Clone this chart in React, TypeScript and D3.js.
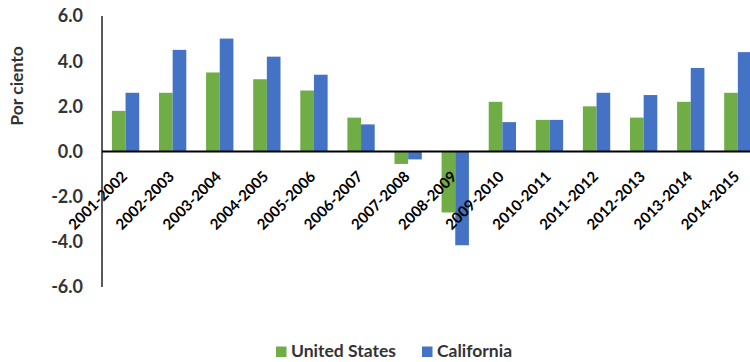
import React from "react";
import * as d3 from "d3";

const categories = ["2001-2002","2002-2003","2003-2004","2004-2005","2005-2006","2006-2007","2007-2008","2008-2009","2009-2010","2010-2011","2011-2012","2012-2013","2013-2014","2014-2015"];
const usValues = [1.8, 2.6, 3.5, 3.2, 2.7, 1.5, -0.55, -2.7, 2.2, 1.4, 2.0, 1.5, 2.2, 2.6];
const caValues = [2.6, 4.5, 5.0, 4.2, 3.4, 1.2, -0.35, -4.15, 1.3, 1.4, 2.6, 2.5, 3.7, 4.4];
const yTicks = [6, 4, 2, 0, -2, -4, -6];
const seriesNames = ["United States", "California"];
const colors = ["#70AD47", "#4472C4"];

const W = 750, H = 362;
const FONT = "Lato, 'Open Sans', sans-serif";

export default function App() {
  const x0 = d3.scaleBand<string>().domain(categories).range([102, 102 + 14 * 47.1]).paddingInner(0.42).paddingOuter(0.21);
  const x1 = d3.scaleBand<string>().domain(seriesNames).range([0, x0.bandwidth()]);
  const y = d3.scaleLinear().domain([-6, 6]).range([287, 16]);
  const series = [usValues, caValues];
  return (
    <svg width={W} height={H} style={{ position: "absolute", left: 0, top: 0, background: "#fff" }}>
      {series.map((vals, si) =>
        vals.map((v, i) => (
          <rect key={`${si}-${i}`} x={(x0(categories[i]) ?? 0) + (x1(seriesNames[si]) ?? 0)} y={y(Math.max(0, v))}
            width={x1.bandwidth()} height={Math.abs(y(v) - y(0))} fill={colors[si]} />
        ))
      )}
      <line x1={102} x2={102} y1={16} y2={287} stroke="#000" strokeWidth={1.3} />
      <line x1={102} x2={W} y1={y(0)} y2={y(0)} stroke="#000" strokeWidth={2} />
      {yTicks.map(t => (
        <text key={t} x={83} y={y(t)} dy="0.36em" textAnchor="end" fontFamily={FONT} fontWeight="bold" fontSize={18} fill="#333">{t.toFixed(1)}</text>
      ))}
      <text transform={`translate(23,${86}) rotate(-90)`} textAnchor="middle" fontFamily={FONT} fontWeight="bold" fontSize={17.5} fill="#333">Por ciento</text>
      {categories.map(c => {
        const cx = (x0(c) ?? 0) + x0.bandwidth() / 2 + 2.5;
        return (
          <text key={c} transform={`translate(${cx},${y(0) + 26}) rotate(-45)`} textAnchor="end" fontFamily={FONT} fontWeight="bold" fontSize={15} fill="#000">{c}</text>
        );
      })}
      {seriesNames.map((s, i) => {
        const lx = i === 0 ? 276 : 422;
        return (
          <g key={s}>
            <rect x={lx} y={346.5} width={10.5} height={10.5} fill={colors[i]} />
            <text x={lx + 15} y={357} fontFamily={FONT} fontWeight="bold" fontSize={17.5} fill="#333">{s}</text>
          </g>
        );
      })}
    </svg>
  );
}
